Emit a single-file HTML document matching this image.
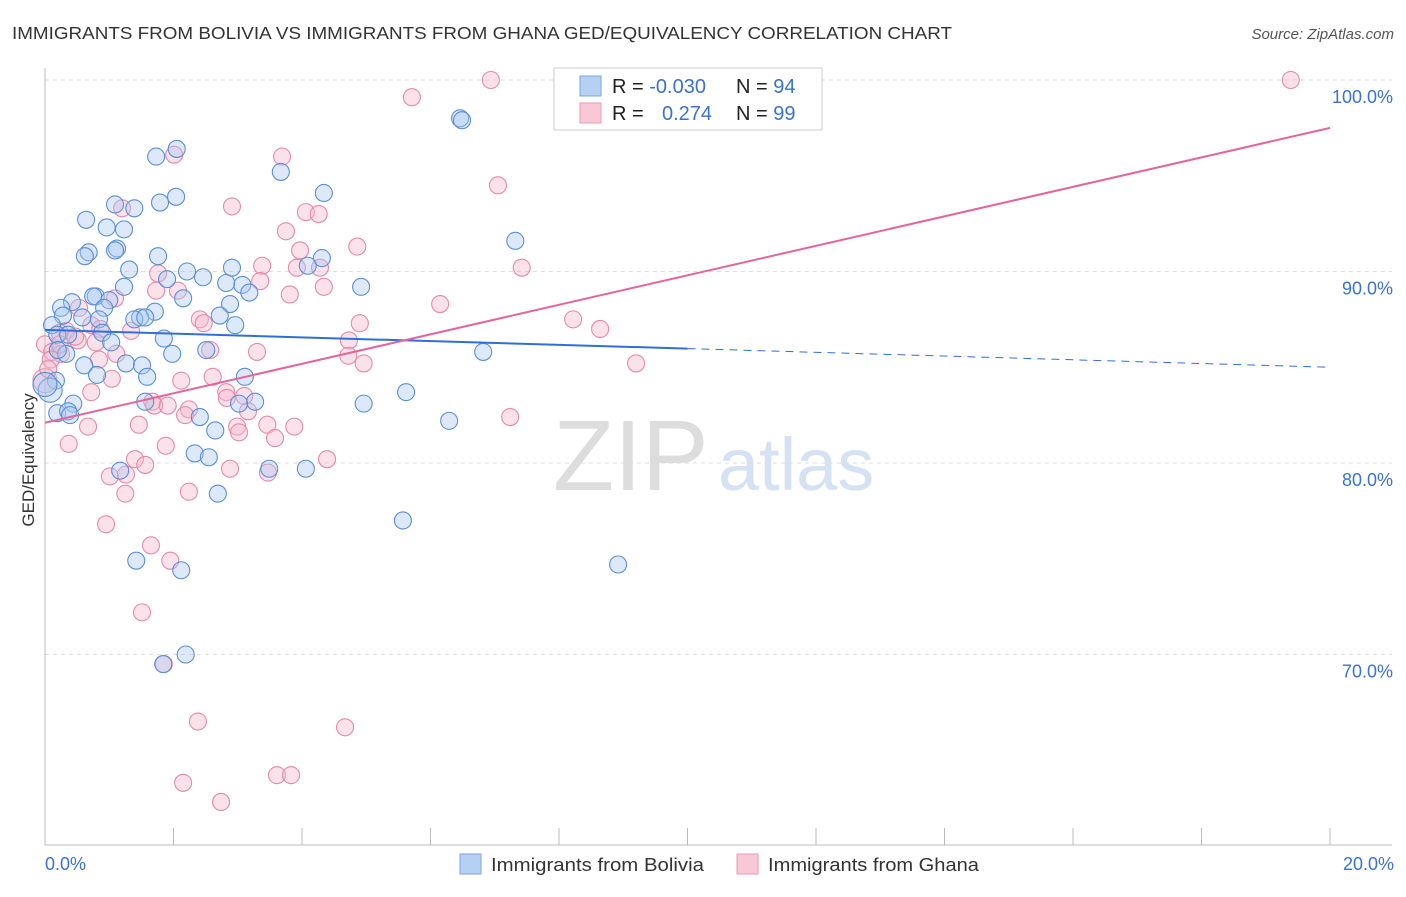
<!DOCTYPE html>
<html><head><meta charset="utf-8"><style>
body{margin:0;background:#fff;font-family:"Liberation Sans",sans-serif;}
svg text{font-family:"Liberation Sans",sans-serif;}
</style></head><body>
<svg id="chart" width="1406" height="892" xmlns="http://www.w3.org/2000/svg">
<text x="12" y="39" font-size="17.5" fill="#333" textLength="940" lengthAdjust="spacingAndGlyphs">IMMIGRANTS FROM BOLIVIA VS IMMIGRANTS FROM GHANA GED/EQUIVALENCY CORRELATION CHART</text>
<text x="1394" y="39" font-size="15" fill="#555" font-style="italic" text-anchor="end">Source: ZipAtlas.com</text>
<g><text x="553" y="490" font-size="100" fill="#ddd" font-family="Liberation Serif,serif">ZIP</text><text x="718" y="490" font-size="74" fill="#d4e2f4">atlas</text></g>
<g id="grid"></g>
<g id="axes"></g>
<g id="pts"></g>
<g id="lines"></g>
<text x="34" y="460" font-size="17" fill="#333" transform="rotate(-90 34 460)" text-anchor="middle">GED/Equivalency</text>
<g>
<rect x="554" y="68" width="268" height="62" fill="#fff" stroke="#ccc"/>
<rect x="580" y="76" width="21" height="20" fill="#b5d0f3" stroke="#7aa6e0"/>
<rect x="580" y="103" width="21" height="20" fill="#f9c8d7" stroke="#eb9ab4"/>
<text x="612" y="93" font-size="20" fill="#222">R = <tspan fill="#3a72d0">-0.030</tspan></text>
<text x="736" y="93" font-size="20" fill="#222">N = <tspan fill="#3a72d0">94</tspan></text>
<text x="612" y="120" font-size="20" fill="#222">R = <tspan x="662" fill="#3a72d0">0.274</tspan></text>
<text x="736" y="120" font-size="20" fill="#222">N = <tspan fill="#3a72d0">99</tspan></text>
</g>
<g>
<rect x="460" y="854" width="21" height="20" fill="#b5d0f3" stroke="#7aa6e0"/>
<text x="491" y="871" font-size="18.5" fill="#333" textLength="213" lengthAdjust="spacingAndGlyphs">Immigrants from Bolivia</text>
<rect x="737" y="854" width="21" height="20" fill="#f9c8d7" stroke="#eb9ab4"/>
<text x="768" y="871" font-size="18.5" fill="#333" textLength="211" lengthAdjust="spacingAndGlyphs">Immigrants from Ghana</text>
</g>
<script>
const blueX=[6.46,6.49,2.05,1.73,3.67,4.34,2.04,1.79,1.09,1.39,0.64,0.96,1.23,1.12,1.09,7.32,0.68,0.62,1.76,4.31,4.09,2.91,2.21,2.46,1.31,1.90,3.07,2.82,4.92,3.18,1.23,2.15,0.79,0.75,1.00,0.42,0.25,2.88,0.92,1.71,0.84,0.28,1.48,1.39,1.56,2.72,2.96,0.58,0.11,1.85,0.89,0.19,0.36,1.03,2.51,1.98,6.82,0.33,0.61,1.26,1.51,1.59,0.81,3.11,0.17,5.62,4.96,0.44,1.56,3.27,3.02,0.19,0.36,0.39,6.29,2.41,2.65,2.33,2.55,3.49,1.17,4.06,2.69,5.57,1.42,2.12,8.92,2.19,1.84,0.08,0,0.20];
const blueY=[98.0,97.9,96.4,96.0,95.2,94.1,93.9,93.6,93.5,93.3,92.7,92.3,92.2,91.2,91.1,91.6,91.0,90.8,90.8,90.7,90.3,90.2,90.0,89.7,90.1,89.6,89.3,89.4,89.2,88.9,89.2,88.6,88.7,88.7,88.5,88.4,88.1,88.3,88.1,87.9,87.5,87.7,87.6,87.5,87.6,87.7,87.2,87.6,87.2,86.5,86.8,86.7,86.7,86.3,85.9,85.7,85.8,85.7,85.1,85.2,85.1,84.5,84.6,84.5,84.3,83.7,83.1,83.1,83.2,83.2,83.1,82.6,82.7,82.5,82.2,82.4,81.7,80.5,80.3,79.7,79.6,79.7,78.4,77.0,74.9,74.4,74.7,70.0,69.5,83.8,84.1,85.9];
const pinkX=[6.94,19.39,5.71,2.01,3.69,7.05,2.91,1.20,4.06,4.26,3.75,4.86,3.97,7.42,3.38,3.92,4.28,1.76,3.35,4.34,3.81,2.07,1.73,1.09,6.15,0.53,2.41,8.22,8.64,2.47,4.90,0.72,1.34,0.33,0.23,0.86,0,0.11,0.25,4.73,0.51,0.79,2.57,3.30,1.11,0.09,0.84,4.72,4.96,9.20,1.04,2.61,2.12,0.72,2.82,1.67,3.10,2.83,7.24,1.70,1.91,2.24,3.16,2.18,1.46,0.67,2.99,3.88,3.46,3.02,3.58,0.37,1.88,4.39,1.40,1.56,2.88,1.01,3.47,1.26,1.25,2.24,0.95,1.65,1.95,1.51,1.85,2.38,4.67,2.15,3.61,3.83,2.74,0,0.05,0.23,0.47];
const pinkY=[100.0,100.0,99.1,96.1,96.0,94.5,93.4,93.3,93.1,93.0,92.1,91.3,91.1,90.2,90.3,90.2,90.2,89.9,89.5,89.2,88.8,89.0,89.0,88.6,88.3,88.1,87.5,87.5,87.0,87.3,87.3,87.2,86.9,86.9,86.8,87.0,86.2,85.8,85.7,86.4,86.4,86.3,85.9,85.8,85.7,85.4,85.4,85.6,85.2,85.2,84.4,84.5,84.3,83.7,83.7,83.2,83.5,83.4,82.4,83.0,83.0,82.8,82.7,82.5,82.0,81.9,81.9,81.9,82.0,81.6,81.3,81.0,80.9,80.2,80.2,79.9,79.7,79.3,79.5,79.4,78.4,78.5,76.8,75.7,74.9,72.2,69.5,66.5,66.2,63.3,63.7,63.7,62.3,84.3,84.9,86.2,86.6];
const yTicks=[100,90,80,70];
const yTickLabels=["100.0%","90.0%","80.0%","70.0%"];
const xTickVals=[0,2,4,6,8,10,12,14,16,18,20];
const blueTrend=[86.95,85.0];
const pinkTrend=[82.1,97.5];
const NS="http://www.w3.org/2000/svg";
const X0=45,X1=1330,XMAX=20;
function sx(v){return X0+(X1-X0)*v/XMAX;}
function sy(v){return 80+(100-v)*19.15;}
function mk(tag,attrs,parent){const e=document.createElementNS(NS,tag);for(const k in attrs)e.setAttribute(k,attrs[k]);parent.appendChild(e);return e;}
const grid=document.getElementById('grid'),axes=document.getElementById('axes'),pts=document.getElementById('pts'),lines=document.getElementById('lines');
yTicks.forEach((t,i)=>{
 const l=mk('line',{x1:X0,x2:1392,y1:sy(t),y2:sy(t),stroke:'#ddd','stroke-dasharray':'4,4'},grid);
 
 
 const tx=mk('text',{x:1393,y:sy(t)+23,'font-size':18,fill:'#3a72d0','text-anchor':'end'},axes);
 tx.textContent=yTickLabels[i];
 
 
});
const ya=mk('line',{x1:X0,x2:X0,y1:68,y2:845,stroke:'#bbb'},axes);


const xa=mk('line',{x1:X0,x2:1392,y1:845,y2:845,stroke:'#bbb'},axes);


xTickVals.forEach(v=>{
 const t=mk('line',{x1:sx(v),x2:sx(v),y1:828,y2:845,stroke:'#bbb'},axes);
 
 
});
const xl0=mk('text',{x:45,y:870,'font-size':18,fill:'#3a72d0'},axes);xl0.textContent='0.0%';


const xl1=mk('text',{x:1394,y:870,'font-size':18,fill:'#3a72d0','text-anchor':'end'},axes);xl1.textContent='20.0%';


function drawPts(xs,ys,fill,stroke,name){
 xs.forEach((x,i)=>{
  const r=(x<0.1&&Math.abs(ys[i]-84)<0.5)?12:8.5;
  const c=mk('circle',{cx:sx(x),cy:sy(ys[i]),r:r,fill:fill,'fill-opacity':0.4,stroke:stroke,'stroke-width':1.1},pts);
  
  
 });
}
drawPts(pinkX,pinkY,'#f6b7cb','#e58aa8','point-ghana');
drawPts(blueX,blueY,'#a9c8f0','#5a8fd8','point-bolivia');
const bm=blueTrend[0]+(blueTrend[1]-blueTrend[0])*0.5;
const b1=mk('line',{x1:sx(0),y1:sy(blueTrend[0]),x2:sx(10),y2:sy(bm),stroke:'#2f6fd6','stroke-width':2},lines);


const b2=mk('line',{x1:sx(10),y1:sy(bm),x2:sx(20),y2:sy(blueTrend[1]),stroke:'#2f6fd6','stroke-width':1,'stroke-dasharray':'8,6'},lines);


const p1=mk('line',{x1:sx(0),y1:sy(pinkTrend[0]),x2:sx(20),y2:sy(pinkTrend[1]),stroke:'#e4659a','stroke-width':2},lines);


</script>
</svg>
</body></html>
